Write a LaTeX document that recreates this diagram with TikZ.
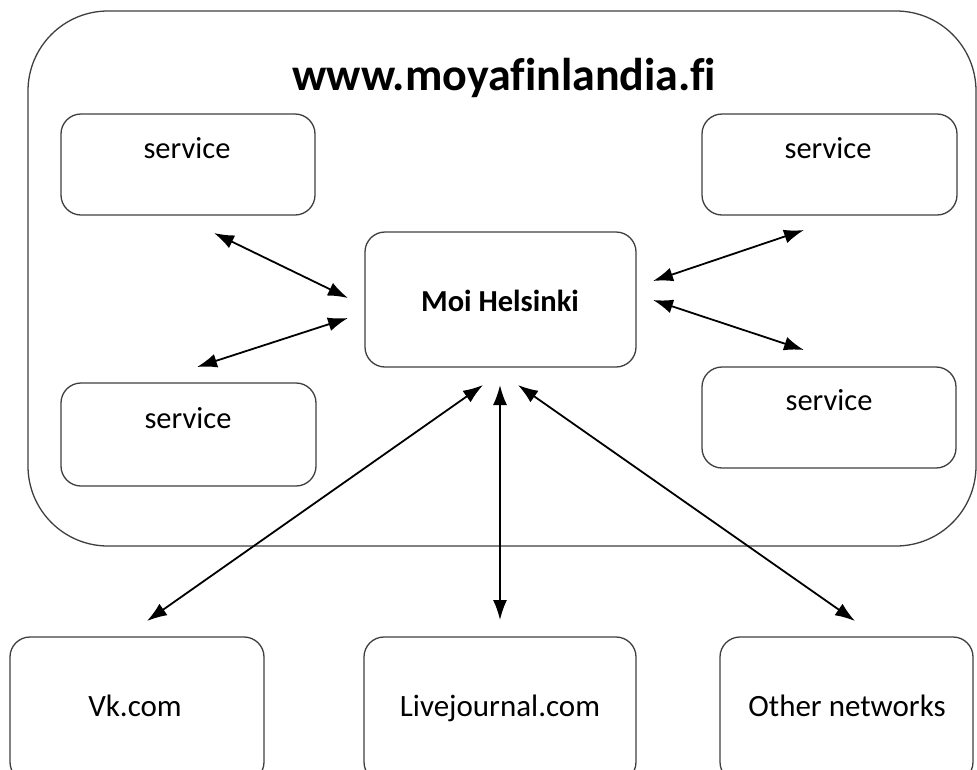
\documentclass[tikz,border=0pt]{standalone}
\usepackage{fontspec}
\setmainfont{Carlito}[Ligatures=NoCommon]
\usetikzlibrary{arrows.meta}
\definecolor{boxline}{HTML}{3F3F3F}
\tikzset{
  outerbox/.style={draw=boxline, line width=1.3pt, rounded corners=80pt, inner sep=0pt},
  svcbox/.style={draw=boxline, line width=1.3pt, rounded corners=20pt, inner sep=0pt},
  svctext/.style={anchor=base, inner sep=0pt, font=\fontsize{30.5}{36}\selectfont},
  moitext/.style={anchor=base, inner sep=0pt, font=\fontsize{30.5}{36}\selectfont\bfseries},
  nettext/.style={anchor=base, inner sep=0pt, font=\fontsize{31}{37}\selectfont},
  titletext/.style={anchor=base, inner sep=0pt, font=\fontsize{46}{55}\selectfont\bfseries},
  link/.style={line width=1.8pt, {Latex[length=20pt,width=14pt]}-{Latex[length=20pt,width=14pt]}}
}
\begin{document}
\begin{tikzpicture}[x=1pt,y=-1pt]
\useasboundingbox (0,0) rectangle (977,769);
\clip (0,0) rectangle (977,769);
% outer site box
\node[outerbox, minimum width=948pt, minimum height=535pt] (site) at (502,278.5) {};
\node[titletext] (ttl) at (504,90) {www.moyafinlandia.fi};
% inner boxes
\node[svcbox, minimum width=254pt, minimum height=101pt] (s1) at (188,164.5) {};
\node[svcbox, minimum width=255pt, minimum height=101pt] (s2) at (829.5,164.5) {};
\node[svcbox, minimum width=271pt, minimum height=135pt] (moi) at (500.5,299.5) {};
\node[svcbox, minimum width=255pt, minimum height=103pt] (s3) at (188.5,434.5) {};
\node[svcbox, minimum width=254pt, minimum height=101pt] (s4) at (829,417.5) {};
\node[svctext] (s1t) at (187,158) {service};
\node[svctext] (s2t) at (828,158) {service};
\node[svctext] (s3t) at (188,428) {service};
\node[svctext] (s4t) at (829,410) {service};
\node[moitext] (moit) at (500,311) {Moi Helsinki};
% bottom networks
\node[svcbox, minimum width=254pt, minimum height=145pt] (vk) at (137,709.5) {};
\node[svcbox, minimum width=272pt, minimum height=145pt] (lj) at (500,709.5) {};
\node[svcbox, minimum width=253pt, minimum height=145pt] (oth) at (846.5,709.5) {};
\node[nettext] (vkt) at (135,716) {Vk.com};
\node[nettext] (ljt) at (500,716) {Livejournal.com};
\node[nettext] (otht) at (847,716) {Other networks};
% connector ends
\coordinate (e1a) at (214,233);  \coordinate (e1b) at (348,298);
\coordinate (e2a) at (197,367);  \coordinate (e2b) at (348,318);
\coordinate (e3a) at (804,230);  \coordinate (e3b) at (653,281);
\coordinate (e4a) at (804,350);  \coordinate (e4b) at (653,300);
\coordinate (e5a) at (147,621);  \coordinate (e5b) at (483,385);
\coordinate (e6a) at (500,620);  \coordinate (e6b) at (500,385);
\coordinate (e7a) at (855,621);  \coordinate (e7b) at (518,385);
\draw[link] (e1a) -- (e1b);
\draw[link] (e2a) -- (e2b);
\draw[link] (e3a) -- (e3b);
\draw[link] (e4a) -- (e4b);
\draw[link] (e5a) -- (e5b);
\draw[link] (e6a) -- (e6b);
\draw[link] (e7a) -- (e7b);
\end{tikzpicture}
\end{document}
